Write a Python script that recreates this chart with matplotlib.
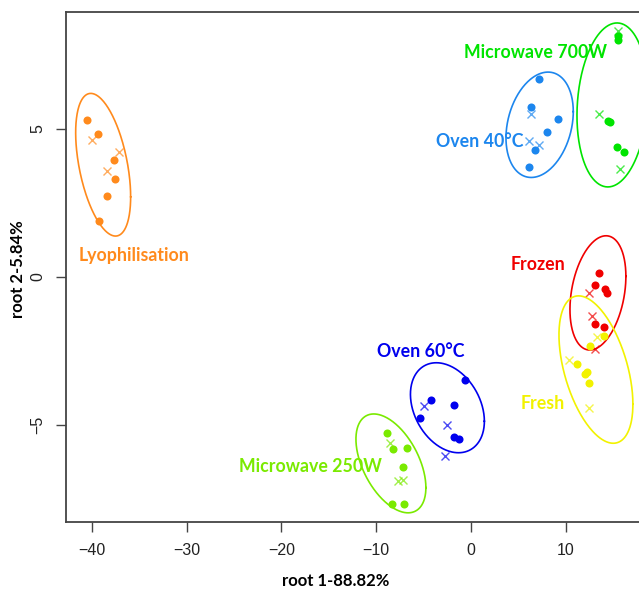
import numpy as np
import matplotlib.pyplot as plt

# group names, colours, label positions
groups = ['Lyophilisation', 'Oven 40°C', 'Microwave 700W', 'Frozen', 'Fresh', 'Oven 60°C', 'Microwave 250W']
colors = ['#FF8A1C', '#1C86EE', '#00E400', '#F00000', '#F2F200', '#0000EE', '#7AEA00']

# observed samples (dots)
dots_x = [
    [-40.5, -39.3, -37.7, -37.55, -38.4, -39.2],
    [7.17, 6.33, 9.21, 7.99, 6.78, 6.15],
    [15.47, 15.51, 14.42, 14.72, 15.40, 16.14],
    [13.47, 13.08, 14.17, 14.31, 13.05, 14.0],
    [14.06, 12.55, 11.21, 12.20, 12.06, 12.48],
    [-0.66, -4.22, -1.79, -5.41, -1.79, -1.30],
    [-8.89, -8.20, -6.72, -7.14, -8.37, -7.07],
]
dots_y = [
    [5.30, 4.84, 3.95, 3.30, 2.74, 1.88],
    [6.70, 5.75, 5.32, 4.90, 4.28, 3.72],
    [8.14, 8.01, 5.28, 5.25, 4.39, 4.21],
    [0.125, -0.29, -0.41, -0.53, -1.60, -1.69],
    [-1.99, -2.35, -2.95, -3.20, -3.28, -3.60],
    [-3.47, -4.16, -4.33, -4.77, -5.42, -5.46],
    [-5.28, -5.81, -5.77, -6.41, -7.66, -7.68],
]

# predicted samples (crosses)
cross_x = [
    [-39.95, -37.1, -38.4],
    [6.30, 6.12, 7.17],
    [15.51, 13.50, 15.75],
    [12.42, 12.76, 13.11],
    [13.26, 10.37, 12.42],
    [-4.99, -2.56, -2.77],
    [-8.54, -7.67, -7.20],
]
cross_y = [
    [4.63, 4.22, 3.58],
    [5.50, 4.60, 4.47],
    [8.32, 5.51, 3.64],
    [-0.53, -1.32, -2.44],
    [-2.02, -2.80, -4.43],
    [-4.37, -5.01, -6.04],
    [-5.60, -6.89, -6.86],
]

# ellipses: centre, half extents, tilt (cos of phase)
ell_cx = [-38.8, 7.25, 14.93, 13.40, 13.19, -2.48, -8.44]
ell_cy = [3.79, 5.14, 5.81, -0.54, -3.13, -4.42, -6.30]
ell_rx = [2.90, 3.55, 3.74, 2.95, 3.90, 3.90, 3.69]
ell_ry = [2.41, 1.78, 2.77, 1.93, 2.49, 1.52, 1.67]
ell_c = [-0.45, 0.25, 0.13, 0.29, -0.47, -0.30, -0.49]

label_x = [-35.5, 0.95, 6.86, 7.07, 7.6, -5.27, -16.98]
label_y = [0.74, 4.59, 7.57, 0.41, -4.29, -2.53, -6.39]

fig = plt.figure(figsize=(6.39, 5.91), dpi=100)
ax = fig.add_axes([66 / 639, 69 / 591, 585 / 639, 510 / 591])

t = np.linspace(0, 2 * np.pi, 300)
for i, g in enumerate(groups):
    c = colors[i]
    phi = np.arccos(ell_c[i])
    ex = ell_cx[i] + ell_rx[i] * np.cos(t)
    ey = ell_cy[i] + ell_ry[i] * np.cos(t - phi)
    ax.plot(ex, ey, color=c, lw=1.2)
    ax.plot(dots_x[i], dots_y[i], 'o', color=c, ms=5.8, mec='none')
    ax.plot(cross_x[i], cross_y[i], 'x', color=c, ms=6, mew=1.0, alpha=0.7)
    ax.text(label_x[i], label_y[i], g, color=c, fontsize=12.8, fontweight='bold',
            family='Lato', ha='center', va='center')

ax.set_xlim(-42.72, 19.0)
ax.set_ylim(-8.28, 8.95)
ax.set_xticks([-40, -30, -20, -10, 0, 10])
ax.set_yticks([-5, 0, 5])
ax.tick_params(length=7, width=1, color='#444444', labelsize=11.5, labelcolor='#222222', pad=8)
for lab in ax.get_yticklabels():
    lab.set_rotation(90)
    lab.set_va('center')
for lab in ax.get_xticklabels() + ax.get_yticklabels():
    lab.set_family('Liberation Sans')
for s in ax.spines.values():
    s.set_color('#444444')
    s.set_linewidth(1.3)

ax.set_xlabel('root 1-88.82%', fontsize=12, fontweight='bold', family='Lato', va='center')
ax.set_ylabel('root 2-5.84%', fontsize=12, fontweight='bold', family='Lato')
ax.xaxis.set_label_coords((336 - 66) / 585, -(581 - 522) / 510)
ax.yaxis.set_label_coords(-0.068, 0.495)

fig.savefig('out.png', dpi=100)
